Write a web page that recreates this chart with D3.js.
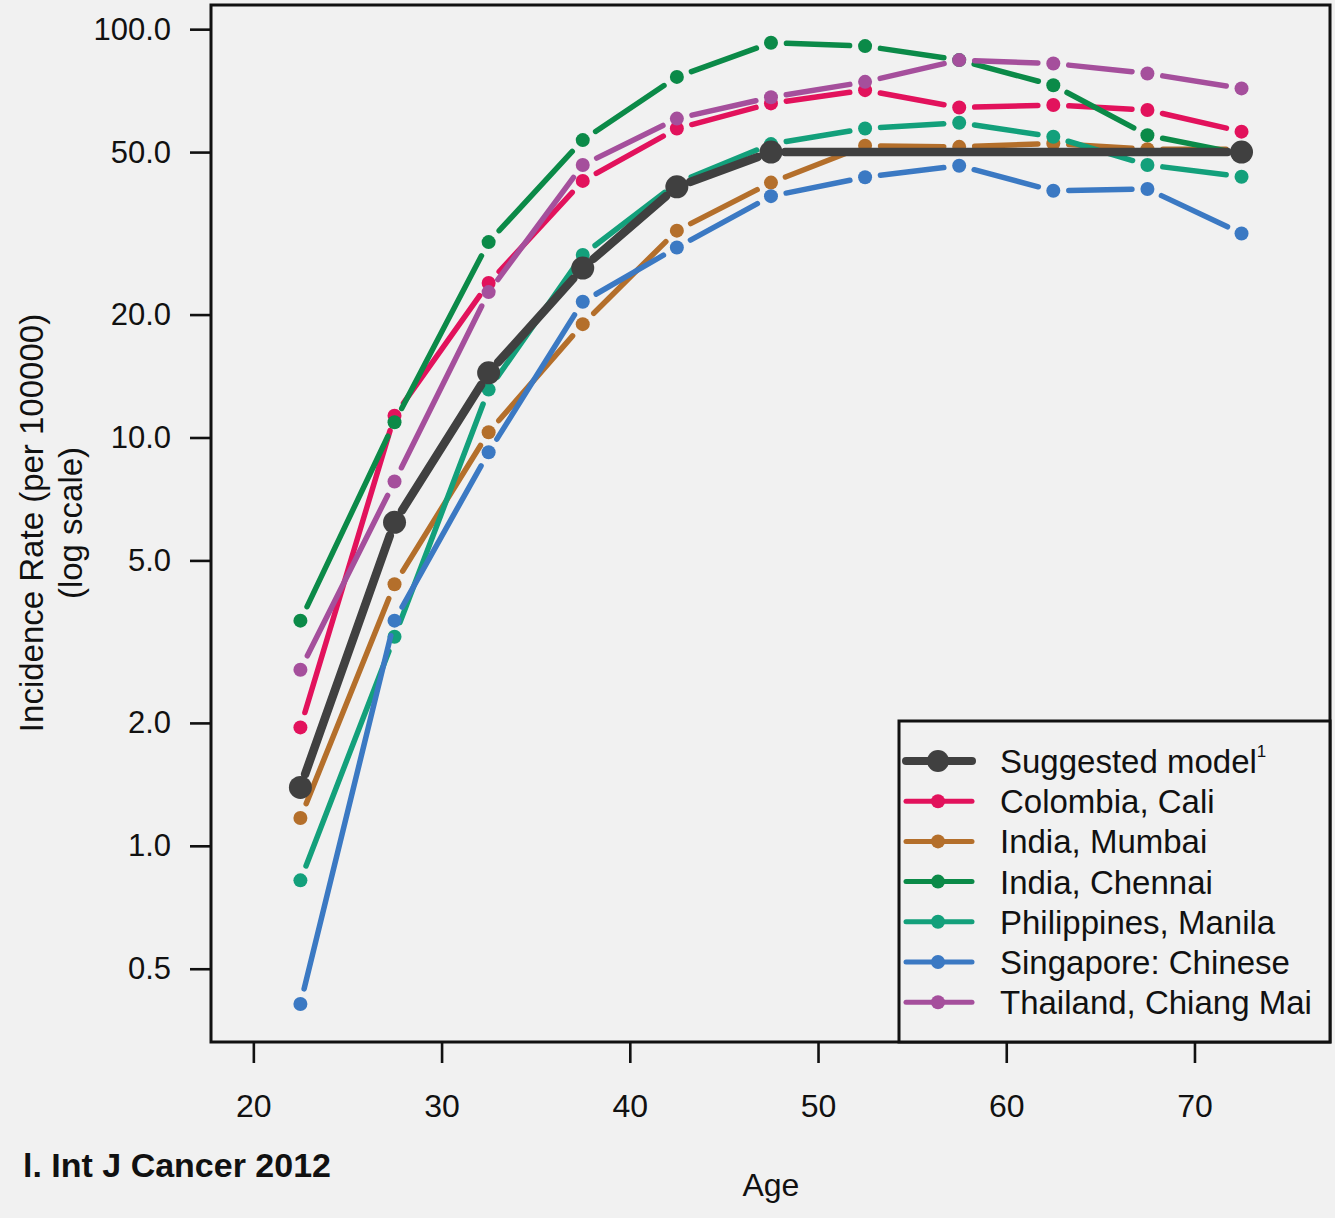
<!DOCTYPE html>
<html>
<head>
<meta charset="utf-8">
<script src="https://cdn.jsdelivr.net/npm/d3@7"></script>
<style>
  html, body { margin: 0; padding: 0; background: #f1f1f1; }
  svg { display: block; }
  text { font-family: "Liberation Sans", Arial, Helvetica, sans-serif; fill: #111; }
</style>
</head>
<body>
<svg id="chart" width="1335" height="1218"></svg>
<script>
// Age-group midpoints (years)
const ages = [22.5, 27.5, 32.5, 37.5, 42.5, 47.5, 52.5, 57.5, 62.5, 67.5, 72.5];
// Suggested model: rises then plateaus at 50 from age 47.5 onward
const modelAges = [22.5, 27.5, 32.5, 37.5, 42.5, 47.5, 72.5];
const modelRates = [1.39, 6.2, 14.4, 26.0, 41.1, 50, 50];

// Registry incidence rates per 100000
const colombiaCali = [1.95, 11.3, 23.9, 42.5, 57.1, 65.8, 70.9, 64.3, 65.2, 63.4, 56.1];
const indiaMumbai = [1.17, 4.37, 10.3, 18.95, 32.1, 42.1, 51.8, 51.5, 52.5, 50.8, 50.8];
const indiaChennai = [3.56, 10.9, 30.1, 53.5, 76.4, 92.6, 90.9, 84.0, 72.9, 55.0, 49.5];
const philippinesManila = [0.823, 3.25, 13.1, 28.0, 42.0, 52.3, 57.1, 59.0, 54.5, 46.5, 43.5];
const singaporeChinese = [0.41, 3.56, 9.2, 21.5, 29.2, 39.0, 43.4, 46.3, 40.2, 40.6, 31.6];
const thailandChiangMai = [2.70, 7.8, 22.7, 46.5, 60.4, 68.1, 74.3, 84.0, 82.4, 77.9, 71.6];

const seriesNames = ["Colombia, Cali", "India, Mumbai", "India, Chennai",
  "Philippines, Manila", "Singapore: Chinese", "Thailand, Chiang Mai"];
const seriesColors = ["#e2125c", "#b46f2b", "#0b8a48", "#13a07b", "#3b79c3", "#a54f9c"];
const seriesValues = [colombiaCali, indiaMumbai, indiaChennai, philippinesManila, singaporeChinese, thailandChiangMai];

const modelName = "Suggested model";
const modelColor = "#404040";

const xTicks = [20, 30, 40, 50, 60, 70];
const yTicks = [0.5, 1, 2, 5, 10, 20, 50, 100];

const svg = d3.select("#chart");

const plot = { left: 211, right: 1330, top: 5, bottom: 1042 };

const x = d3.scaleLinear().domain([17.75, 77.2]).range([plot.left, plot.right]);
const y = d3.scaleLog().domain([0.3308, 114.6]).range([plot.bottom, plot.top]);

// Plot panel background
svg.append("rect")
  .attr("x", plot.left).attr("y", plot.top)
  .attr("width", plot.right - plot.left).attr("height", plot.bottom - plot.top)
  .attr("fill", "#f1f1f1");

// Axes
const xAxis = d3.axisBottom(x).tickValues(xTicks).tickSize(21).tickPadding(31)
  .tickFormat(d3.format("d"));
const gx = svg.append("g").attr("transform", `translate(0,${plot.bottom})`).call(xAxis);
gx.select(".domain").remove();
gx.selectAll(".tick line").attr("stroke", "#111").attr("stroke-width", 2.6);
gx.selectAll(".tick text").attr("font-size", 32).attr("fill", "#111");

const yAxis = d3.axisLeft(y).tickValues(yTicks).tickSize(21).tickPadding(19)
  .tickFormat(d3.format(".1f"));
const gy = svg.append("g").attr("transform", `translate(${plot.left},0)`).call(yAxis);
gy.select(".domain").remove();
gy.selectAll(".tick line").attr("stroke", "#111").attr("stroke-width", 2.6);
gy.selectAll(".tick text").attr("font-size", 31).attr("fill", "#111");

// Lines with gaps around each point (type "b" style)
function gappedSegments(pts, gap) {
  const segs = [];
  for (let i = 0; i < pts.length - 1; i++) {
    const [x1, y1] = pts[i], [x2, y2] = pts[i + 1];
    const dx = x2 - x1, dy = y2 - y1;
    const len = Math.hypot(dx, dy);
    if (len <= 2 * gap) continue;
    const ux = dx / len, uy = dy / len;
    segs.push([[x1 + ux * gap, y1 + uy * gap], [x2 - ux * gap, y2 - uy * gap]]);
  }
  return segs;
}

const line = d3.line();
const marks = svg.append("g");

function drawSeries(xs, vals, color, width, radius, gap) {
  const pts = xs.map((a, i) => [x(a), y(vals[i])]);
  const g = marks.append("g");
  g.selectAll("path").data(gappedSegments(pts, gap)).join("path")
    .attr("d", line)
    .attr("fill", "none")
    .attr("stroke", color)
    .attr("stroke-width", width)
    .attr("stroke-linecap", "round");
  g.selectAll("circle").data(pts).join("circle")
    .attr("cx", d => d[0]).attr("cy", d => d[1]).attr("r", radius)
    .attr("fill", color);
}

seriesValues.forEach((vals, i) => drawSeries(ages, vals, seriesColors[i], 5.5, 7, 15.5));
drawSeries(modelAges, modelRates, modelColor, 8.5, 11.5, 14);

// Plot frame
svg.append("rect")
  .attr("x", plot.left).attr("y", plot.top)
  .attr("width", plot.right - plot.left).attr("height", plot.bottom - plot.top)
  .attr("fill", "none").attr("stroke", "#111").attr("stroke-width", 3);

// Legend
const legend = { left: 899, top: 721 };
svg.append("rect")
  .attr("x", legend.left).attr("y", legend.top)
  .attr("width", plot.right - legend.left).attr("height", plot.bottom - legend.top)
  .attr("fill", "#f1f1f1").attr("stroke", "#111").attr("stroke-width", 3);

const legendItems = [{ name: modelName, color: modelColor, w: 8, r: 11, sup: "1" }]
  .concat(seriesNames.map((n, i) => ({ name: n, color: seriesColors[i], w: 5, r: 7 })));

const rowY = i => 761 + i * 40.2;
const lg = svg.append("g");
legendItems.forEach((it, i) => {
  const cy = rowY(i);
  lg.append("line").attr("x1", 906).attr("x2", 972).attr("y1", cy).attr("y2", cy)
    .attr("stroke", it.color).attr("stroke-width", it.w).attr("stroke-linecap", "round");
  lg.append("circle").attr("cx", 938).attr("cy", cy).attr("r", it.r).attr("fill", it.color);
  const t = lg.append("text").attr("x", 1000).attr("y", cy + 12).attr("font-size", 33).text(it.name);
  if (it.sup) {
    t.append("tspan").attr("font-size", 17).attr("dy", -16).text(it.sup);
  }
});

// Axis titles
svg.append("text")
  .attr("transform", "translate(43,523) rotate(-90)")
  .attr("text-anchor", "middle").attr("font-size", 33)
  .text("Incidence Rate (per 100000)");
svg.append("text")
  .attr("transform", "translate(82,523) rotate(-90)")
  .attr("text-anchor", "middle").attr("font-size", 33)
  .text("(log scale)");

svg.append("text")
  .attr("x", (x(20) + x(70)) / 2 + 47).attr("y", 1196)
  .attr("text-anchor", "middle").attr("font-size", 32)
  .text("Age");

// Source note
svg.append("text")
  .attr("x", 331).attr("y", 1177)
  .attr("text-anchor", "end").attr("font-size", 34).attr("font-weight", "bold")
  .text("l. Int J Cancer 2012");
</script>
</body>
</html>
